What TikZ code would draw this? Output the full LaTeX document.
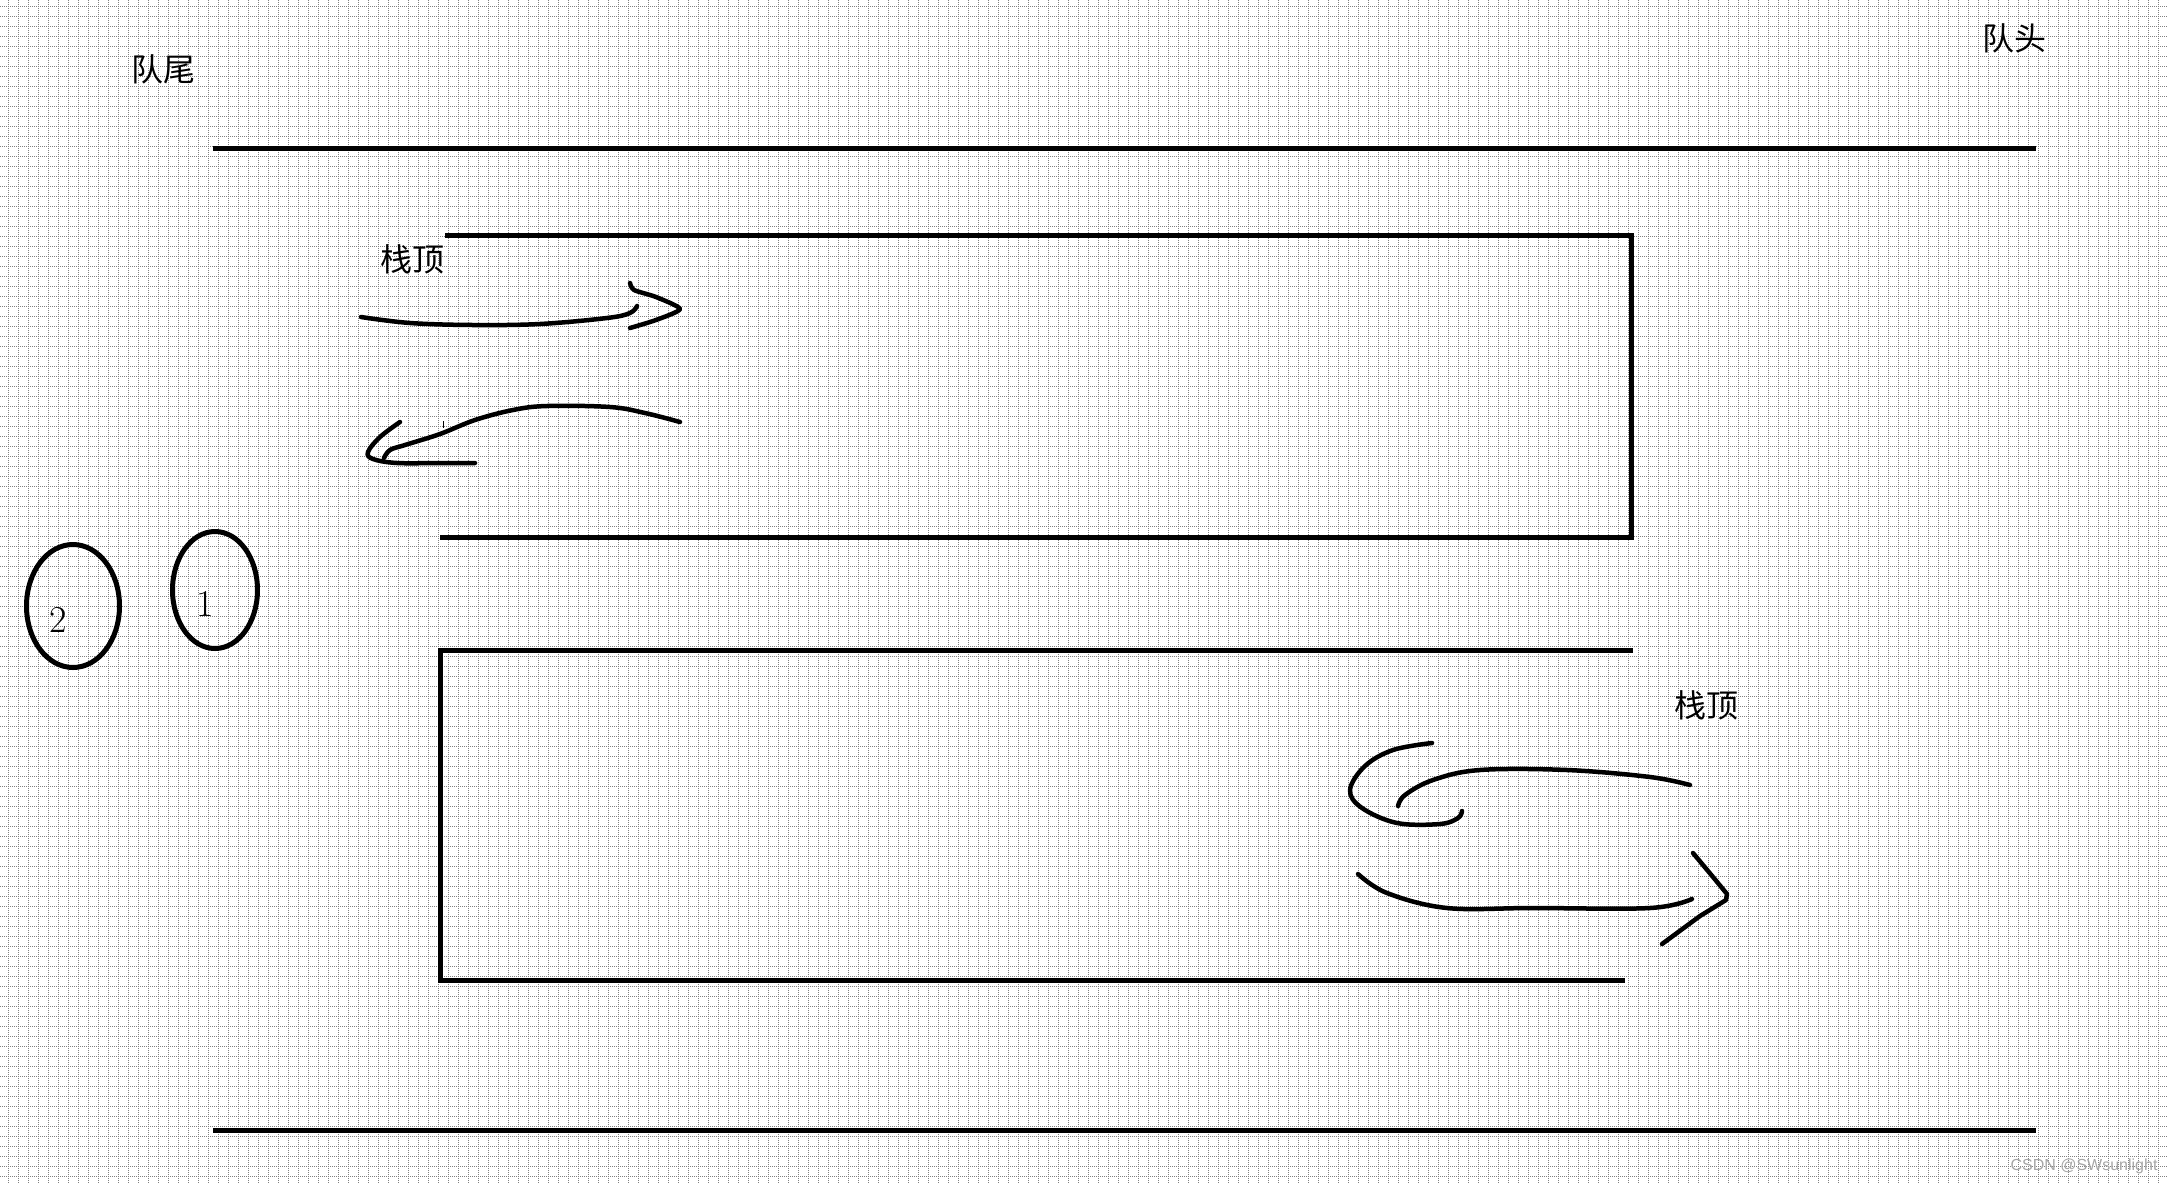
\documentclass[tikz,border=0pt]{standalone}
\usepackage{fontspec}
\newfontfamily\cjk{Noto Sans CJK SC}
\newfontfamily\wmfont{Liberation Sans}
\begin{document}
\begin{tikzpicture}[x=1pt,y=-1pt,
  gridline/.style={draw=black!50, line width=0.9pt, dash pattern=on 1pt off 1pt},
  wall/.style={line width=5pt, line join=miter},
  stroke/.style={line width=4.5pt, line cap=round, line join=round},
  ring/.style={line width=5pt},
  cjktext/.style={font=\cjk\fontsize{32}{32}\selectfont, inner sep=0pt},
  numtext/.style={font=\fontsize{38}{38}\selectfont, inner sep=0pt},
  wmtext/.style={font=\wmfont\fontsize{16}{16}\selectfont, text=black!35, inner sep=0pt}]
\useasboundingbox (0,0) rectangle (2168,1184);
\fill[white] (0,0) rectangle (2168,1184);
% grid
\foreach \i in {0,...,216} \draw[gridline] (8+10*\i,0) -- (8+10*\i,1184);
\foreach \j in {0,...,117} \draw[gridline] (0,6+10*\j) -- (2168,6+10*\j);
% queue walls
\coordinate (qtl) at (213,148); \coordinate (qtr) at (2036,148);
\coordinate (qbl) at (213,1130); \coordinate (qbr) at (2036,1130);
\draw[wall] (qtl) -- (qtr);
\draw[wall] (qbl) -- (qbr);
% upper stack
\coordinate (a1) at (445,235); \coordinate (a2) at (1631,235);
\coordinate (a3) at (1631,537); \coordinate (a4) at (440,537);
\draw[wall] (a1) -- (a2) -- (a3) -- (a4);
% lower stack
\coordinate (b1) at (1633,650); \coordinate (b2) at (440,650);
\coordinate (b3) at (440,980); \coordinate (b4) at (1625,980);
\draw[wall] (b1) -- (b2) -- (b3) -- (b4);
% labels
\node[cjktext] (tail) at (163,69) {队尾};
\node[cjktext] (head) at (2014,38) {队头};
\node[cjktext] (top1) at (412,259) {栈顶};
\node[cjktext] (top2) at (1706,705) {栈顶};
% elements
\draw[ring] (73,606) ellipse [x radius=46.5pt, y radius=61.5pt];
\draw[ring] (215,590) ellipse [x radius=42.5pt, y radius=58.5pt];
\node[numtext] (n2) at (58,620) {2};
\node[numtext] (n1) at (205,604) {1};
% upper arrows
\draw[stroke] plot[smooth, tension=0.6] coordinates {(361,317) (410,323) (473,325) (540,324) (607,318) (630,313) (637,306)};
\draw[stroke] plot[smooth, tension=0.4] coordinates {(630,283) (634,290) (656,297) (680,309) (656,320) (630,328)};
\draw[stroke] plot[smooth, tension=0.6] coordinates {(680,422) (645,413) (610,407) (547,406) (513,410) (475,420) (440,434) (405,445) (390,450) (384,458)};
\draw[stroke] plot[smooth, tension=0.6] coordinates {(400,422) (380,437) (368,452) (373,459) (397,463) (440,463) (475,463)};
\draw[line width=1pt] (443,421) -- (443,428);
% lower arrows
\draw[stroke] plot[smooth, tension=0.6] coordinates {(1690,785) (1650,777) (1567,770) (1480,770) (1433,780) (1405,795) (1398,806)};
\draw[stroke] plot[smooth, tension=0.6] coordinates {(1432,743) (1393,750) (1365,766) (1350,790) (1362,808) (1397,823) (1440,824) (1458,818) (1462,811)};
\draw[stroke] plot[smooth, tension=0.6] coordinates {(1358,874) (1387,893) (1447,908) (1533,908) (1650,908) (1692,899)};
\draw[stroke] (1693,853) -- (1713,877) -- (1727,894) -- (1726,900) -- (1700,916) -- (1662,944);
% watermark
\node[wmtext] (wm) at (2084,1166) {CSDN @SWsunlight};
\end{tikzpicture}
\end{document}
